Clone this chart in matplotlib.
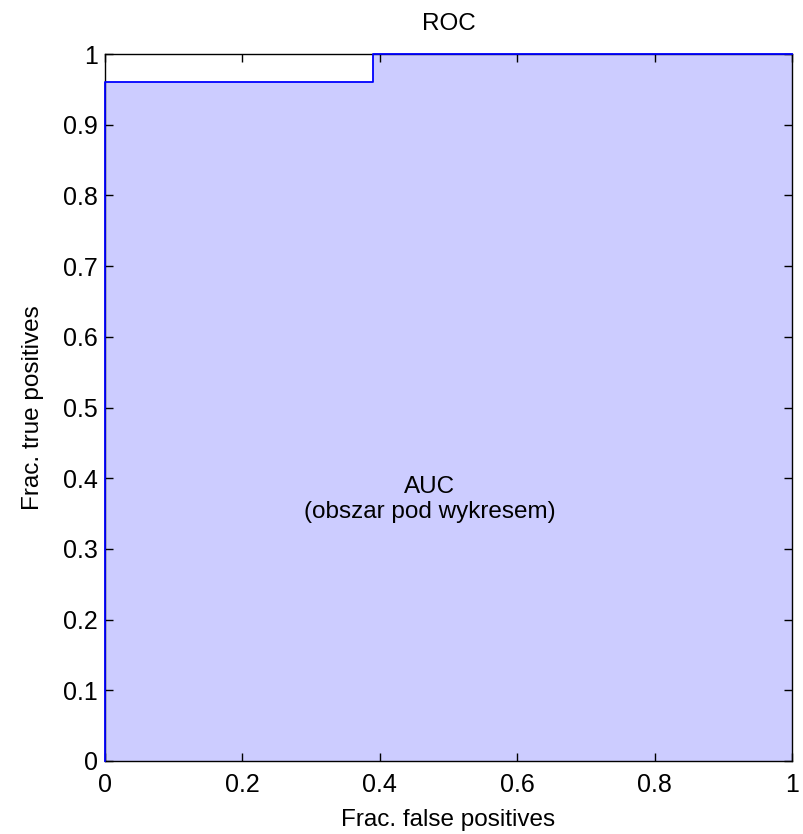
import matplotlib.pyplot as plt
import numpy as np

# ROC curve points (step)
fpr = [0, 0, 0.39, 0.39, 1]
tpr = [0, 0.96, 0.96, 1, 1]
xticks = [0, 0.2, 0.4, 0.6, 0.8, 1]
xtick_labels = ['0', '0.2', '0.4', '0.6', '0.8', '1']
yticks = [0, 0.1, 0.2, 0.3, 0.4, 0.5, 0.6, 0.7, 0.8, 0.9, 1]
ytick_labels = ['0', '0.1', '0.2', '0.3', '0.4', '0.5', '0.6', '0.7', '0.8', '0.9', '1']

plt.rcParams['font.family'] = ['Liberation Sans', 'DejaVu Sans']

fig = plt.figure(figsize=(8.04, 8.34), dpi=100)
ax = fig.add_axes([105 / 804, 1 - 761 / 834, 687 / 804, 707 / 834])

ax.fill_between(fpr, tpr, 0, color='#ccccff', linewidth=0)
ax.plot(fpr, tpr, color='#0000ff', linewidth=1.3, clip_on=False, zorder=5)

ax.set_xlim(0, 1)
ax.set_ylim(0, 1)
ax.set_xticks(xticks)
ax.set_xticklabels(xtick_labels)
ax.set_yticks(yticks)
ax.set_yticklabels(ytick_labels)
ax.tick_params(direction='in', length=6, width=1, top=True, right=True,
               labelsize=18, colors='black', pad=5)
ax.tick_params(axis='x', pad=8.5)
for s in ax.spines.values():
    s.set_linewidth(1)

ax.text(0.473, 0.37, 'AUC\n(obszar pod wykresem)', ha='center', va='center',
        fontsize=17.5, linespacing=1.2)

ax.set_title('ROC', fontsize=17.5, pad=17)
ax.set_xlabel('Frac. false positives', fontsize=17.5, labelpad=9)
ax.set_ylabel('Frac. true positives', fontsize=17.5, labelpad=14)

fig.savefig('out.png', dpi=100)
